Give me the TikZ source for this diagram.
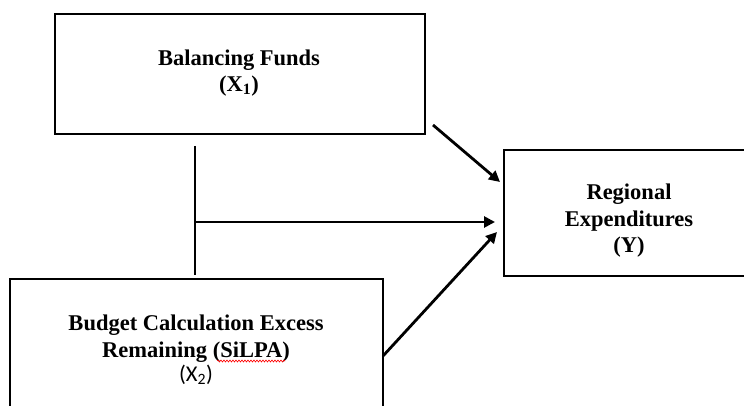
\documentclass[tikz,border=0pt]{standalone}
\usepackage{fontspec}
\setmainfont{Liberation Serif}
\newfontfamily\carl{Carlito}
\usetikzlibrary{arrows.meta,decorations.pathmorphing}
\begin{document}
\begin{tikzpicture}[x=1pt,y=-1pt,
  box/.style={draw,line width=1.5pt,inner sep=0pt},
  lbl/.style={font=\fontsize{22.5}{26.5}\selectfont\bfseries,align=center,inner sep=0pt},
  conn/.style={line width=2.8pt,-{Triangle[length=11pt,width=11pt]}},
  bar/.style={line width=2.8pt}]
\clip (0,0) rectangle (744,406);
\fill[white] (0,0) rectangle (744,406);
% boxes
\node[box,minimum width=370pt,minimum height=120pt] (fund) at (240,74) {};
\node[box,minimum width=252pt,minimum height=126pt] (exp) at (630,213) {};
\node[box,minimum width=373pt,minimum height=146pt] (silpa) at (196.5,352) {};
% labels
\node[lbl] (fundtxt) at (239,73) {Balancing Funds\\(X\textsubscript{1})};
\node[lbl] (exptxt) at (629,221) {Regional\\Expenditures\\(Y)};
\node[lbl] (silpatxt) at (196,350) {Budget Calculation Excess\\Remaining (SiLPA)\\[-2pt]{\carl\mdseries (X\textsubscript{2})}};
\draw[red,line width=0.6pt,decorate,decoration={snake,amplitude=1pt,segment length=3pt}] (217,361) -- (285,361);
% connectors
\coordinate (a1s) at (433,125);
\coordinate (a1e) at (500,182);
\coordinate (v1) at (195,146);
\coordinate (v2) at (195,275);
\coordinate (hs) at (195,222);
\coordinate (he) at (495,222);
\coordinate (a3s) at (383,356);
\coordinate (a3e) at (497,232);
\draw[bar] (v1) -- (v2);
\draw[conn] (a1s) -- (a1e);
\draw[conn] (hs) -- (he);
\draw[conn] (a3s) -- (a3e);
\end{tikzpicture}
\end{document}
